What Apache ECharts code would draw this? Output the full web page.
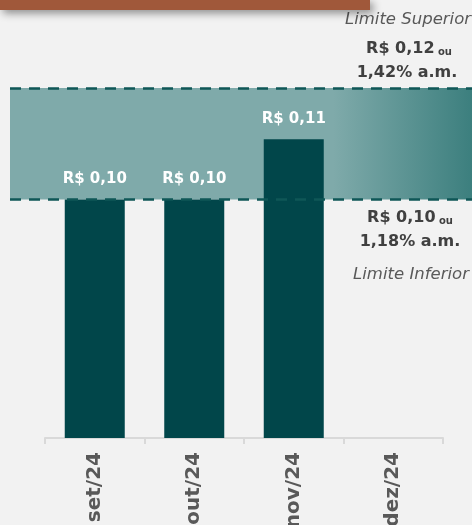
<!DOCTYPE html>
<html>
<head>
<meta charset="utf-8">
<script src="https://cdn.jsdelivr.net/npm/echarts@6/dist/echarts.min.js"></script>
<style>
html,body{margin:0;padding:0;background:#f2f2f2;}
#c{width:472px;height:525px;}
</style>
</head>
<body>
<div id="c"></div>
<script>
// ---- data ----
var categories = ['set/24', 'out/24', 'nov/24', 'dez/24'];
var dividends = [0.10, 0.10, 0.1108, null];
var limitLower = 0.10;
var limitUpper = 0.12;
var upperTexts = ['Limite Superior', 'R$ 0,12', 'ou', '1,42% a.m.'];
var lowerTexts = ['R$ 0,10', 'ou', '1,18% a.m.', 'Limite Inferior'];
var axisMin = 0.0572;
var axisMax = 0.12;

var FONT = '"DejaVu Sans", sans-serif';
var chart = echarts.init(document.getElementById('c'), null, {renderer: 'canvas'});

function fmt(v) { return 'R$ ' + v.toFixed(2).replace('.', ','); }

var richVal = {
  b: {fontFamily: FONT, fontWeight: 'bold', fontSize: 16, fill: '#404040', color: '#404040', verticalAlign: 'bottom', lineHeight: 18},
  s: {fontFamily: FONT, fontWeight: 'bold', fontSize: 10, fill: '#404040', color: '#404040', verticalAlign: 'bottom', lineHeight: 15}
};

var option = {
  backgroundColor: '#f2f2f2',
  animation: false,
  grid: [
    {left: 45, right: 29, top: 88, bottom: 87, containLabel: false, outerBoundsMode: 'none'},
    {left: 10, right: 0, top: 88, bottom: 87, containLabel: false, outerBoundsMode: 'none'}
  ],
  xAxis: [
    {
      type: 'category', gridIndex: 0, data: categories,
      axisLine: {show: true, lineStyle: {color: '#d9d9d9', width: 2}},
      axisTick: {show: true, length: 6, lineStyle: {color: '#d9d9d9', width: 2}},
      axisLabel: {rotate: 90, margin: 14, color: '#595959', fontFamily: FONT, fontWeight: 'bold', fontSize: 20, interval: 0}
    },
    {type: 'value', gridIndex: 1, min: 0, max: 1, show: false}
  ],
  yAxis: [
    {type: 'value', gridIndex: 0, min: axisMin, max: axisMax, show: false, splitLine: {show: false}},
    {type: 'value', gridIndex: 1, min: axisMin, max: axisMax, show: false, splitLine: {show: false}}
  ],
  series: [
    {
      type: 'line', xAxisIndex: 1, yAxisIndex: 1, data: [], z: 1, silent: true,
      markArea: {
        silent: true,
        itemStyle: {
          color: new echarts.graphic.LinearGradient(0, 0, 1, 0, [
            {offset: 0, color: '#7faaaa'},
            {offset: 0.7, color: '#7faaaa'},
            {offset: 1, color: '#3c7f7e'}
          ])
        },
        data: [[{yAxis: limitLower}, {yAxis: limitUpper}]]
      },
      markLine: {
        silent: true, symbol: 'none', label: {show: false},
        lineStyle: {type: [11, 8], color: '#0f5757', width: 2.5},
        data: [{yAxis: limitLower}, {yAxis: limitUpper}]
      }
    },
    {
      type: 'bar', xAxisIndex: 0, yAxisIndex: 0, data: dividends, z: 3,
      barWidth: 60,
      itemStyle: {color: '#01464a'},
      label: {
        show: true, position: 'top', distance: 13,
        color: '#ffffff', fontFamily: FONT, fontWeight: 'bold', fontSize: 15,
        formatter: function (p) { return p.value == null ? '' : fmt(p.value); }
      }
    }
  ],
  graphic: {
    elements: [
      {
        type: 'text', z: 11,
        style: {text: upperTexts[0], x: 408, y: 20, align: 'center', verticalAlign: 'middle',
          font: 'italic 16.5px ' + FONT, fill: '#595959'}
      },
      {
        type: 'text', z: 11,
        style: {text: '{b|' + upperTexts[1] + '} {s|' + upperTexts[2] + '}', x: 409, y: 48, align: 'center', verticalAlign: 'middle', rich: richVal}
      },
      {
        type: 'text', z: 11,
        style: {text: upperTexts[3], x: 407, y: 73, align: 'center', verticalAlign: 'middle',
          font: 'bold 16px ' + FONT, fill: '#404040'}
      },
      {
        type: 'text', z: 11,
        style: {text: '{b|' + lowerTexts[0] + '} {s|' + lowerTexts[1] + '}', x: 410, y: 217, align: 'center', verticalAlign: 'middle', rich: richVal}
      },
      {
        type: 'text', z: 11,
        style: {text: lowerTexts[2], x: 410, y: 242, align: 'center', verticalAlign: 'middle',
          font: 'bold 16px ' + FONT, fill: '#404040'}
      },
      {
        type: 'text', z: 11,
        style: {text: lowerTexts[3], x: 411, y: 275, align: 'center', verticalAlign: 'middle',
          font: 'italic 16.5px ' + FONT, fill: '#595959'}
      },
      {
        type: 'rect', z: 100, zlevel: 1,
        shape: {x: 0, y: 0, width: 370, height: 10},
        style: {fill: '#a0583a', shadowBlur: 8, shadowOffsetX: 3, shadowOffsetY: 3, shadowColor: 'rgba(0,0,0,0.45)'}
      }
    ]
  }
};
chart.setOption(option);
</script>
</body>
</html>
